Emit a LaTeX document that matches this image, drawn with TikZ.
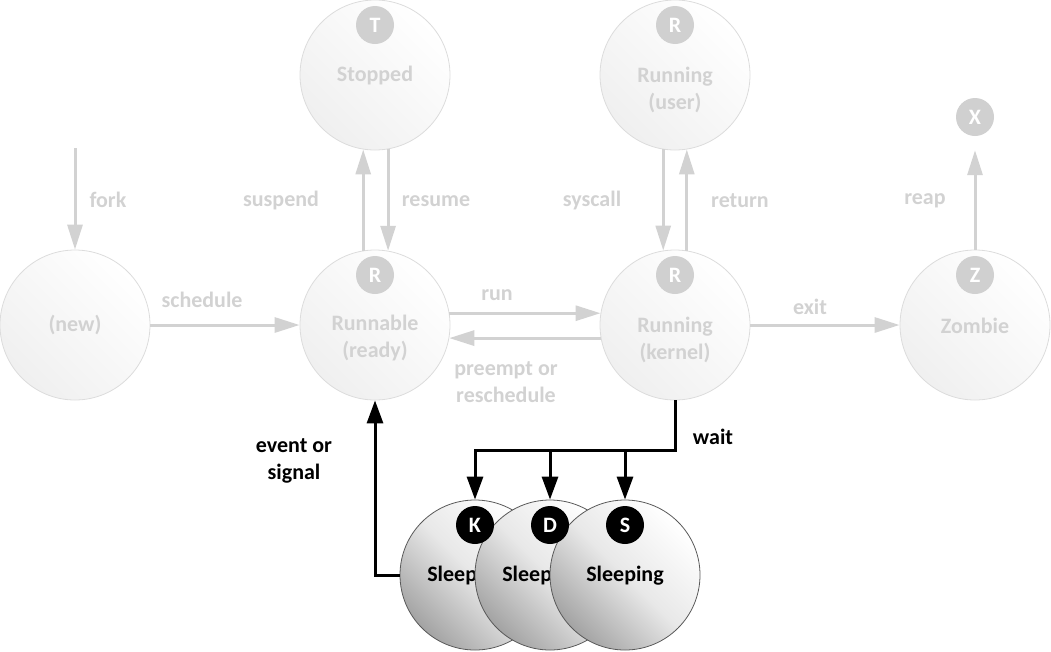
\documentclass[tikz,border=0pt]{standalone}
\usepackage{fontspec}
\setmainfont{Carlito}
\usetikzlibrary{arrows.meta,calc}
\definecolor{lgt}{HTML}{D2D2D2}
\definecolor{bord}{HTML}{DCDCDC}
\definecolor{badge}{HTML}{D0D0D0}
\begin{document}
\begin{tikzpicture}[x=1pt,y=-1pt,
  every node/.style={font=\fontsize{22}{27}\selectfont\bfseries},
  st/.style={circle, minimum size=150pt, inner sep=0pt, draw=bord, line width=0.8pt, top color=white, bottom color=gray!12, shading angle=-45},
  sl/.style={circle, minimum size=150pt, inner sep=0pt, draw=black!65, line width=0.8pt, top color=white, bottom color=gray!72, middle color=gray!18, shading angle=-45},
  bdg/.style={circle, fill=badge, text=white, minimum size=38pt, inner sep=0pt},
  bbdg/.style={circle, fill=black, text=white, minimum size=38pt, inner sep=0pt},
  gl/.style={draw=lgt, line width=3pt, -{Triangle[length=25pt,width=15pt]}},
  bl/.style={draw=black, line width=3pt, -{Triangle[length=23pt,width=16pt]}},
  lbl/.style={text=lgt, align=center},
  blbl/.style={text=black, align=center},
]
\useasboundingbox (0,0) rectangle (1051,651);

% gray states
\node[st] (new) at (75,325) {};
\node[lbl] (newt) at (new.center) {(new)};

\node[st] (run) at (375,325) {};
\node[bdg] (runb) at (375,275) {R};
\node[lbl] (runt) at (375,338.5) {Runnable\\(ready)};

\node[st] (stp) at (375,75) {};
\node[bdg] (stpb) at (375,25) {T};
\node[lbl] (stpt) at (375,76) {Stopped};

\node[st] (usr) at (675,75) {};
\node[bdg] (usrb) at (675,25) {R};
\node[lbl] (usrt) at (675,89.5) {Running\\(user)};

\node[st] (krn) at (675,325) {};
\node[bdg] (krnb) at (675,275) {R};
\node[lbl] (krnt) at (675,339.5) {Running\\(kernel)};

\node[st] (zmb) at (975,325) {};
\node[bdg] (zmbb) at (975,275) {Z};
\node[lbl] (zmbt) at (975,326) {Zombie};

\node[bdg] (xb) at (975,117) {X};

% sleeping states
\node[sl] (sk) at (475,575) {};
\node (skt) at (466,576) {Sleeping};
\node[sl] (sd) at (550,575) {};
\node (sdt) at (541,576) {Sleeping};
\node[sl] (ss) at (625,575) {};
\node (sst) at (625,576) {Sleeping};
\node[bbdg] (skb) at (475,525) {K};
\node[bbdg] (sdb) at (550,525) {D};
\node[bbdg] (ssb) at (625,525) {S};

% gray connectors
\coordinate (forkstart) at (75,148);
\draw[gl] (forkstart) -- (new.north);
\draw[gl] (new.east) -- (run.west);
\draw[gl] (run.99) -- (stp.261);
\draw[gl] (stp.280) -- (run.80);
\draw[gl] (run.9) -- (krn.171);
\draw[gl] (krn.190) -- (run.350);
\draw[gl] (usr.261) -- (krn.99);
\draw[gl] (krn.81) -- (usr.279);
\draw[gl] (krn.east) -- (zmb.west);
\draw[gl, shorten >=14pt] (zmb.north) -- (xb.south);

% black connectors
\draw[bl] (sk.west) -| (run.south);
\coordinate (wk) at (475,450);
\coordinate (wd) at (550,450);
\coordinate (ws) at (625,450);
\draw[bl] (krn.south) |- (wk) -- (sk.north);
\draw[bl] (wd) -- (sd.north);
\draw[bl] (ws) -- (ss.north);

% labels
\node[lbl,anchor=west] (lfork) at (86,200) {fork};
\node[lbl] (lsus) at (281,201) {suspend};
\node[lbl] (lres) at (436,201) {resume};
\node[lbl] (lsys) at (592,201) {syscall};
\node[lbl] (lret) at (740,201) {return};
\node[lbl] (lreap) at (925,201) {reap};
\node[lbl] (lsch) at (202,300) {schedule};
\node[lbl] (lrun) at (497,295) {run};
\node[lbl] (lexit) at (810,307) {exit};
\node[lbl] (lpre) at (506,382) {preempt or\\reschedule};
\node[blbl] (lwait) at (713,437) {wait};
\node[blbl] (levt) at (294,461) {event or\\signal};
\end{tikzpicture}
\end{document}
